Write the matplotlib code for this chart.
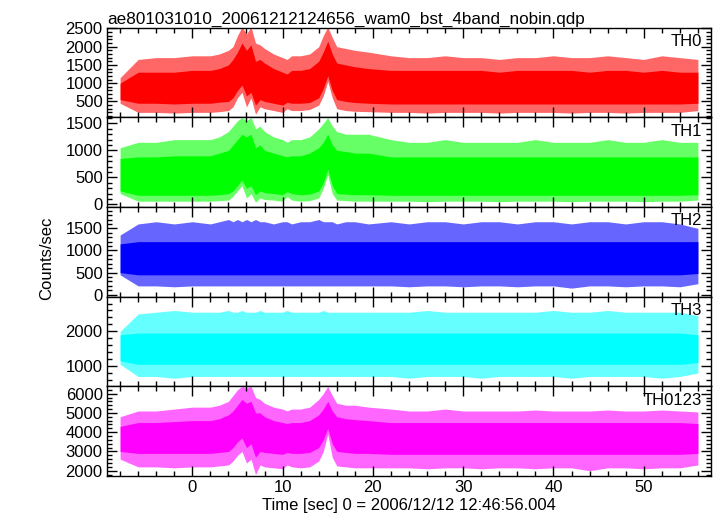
import matplotlib
matplotlib.use('Agg')
import matplotlib.pyplot as plt
from matplotlib.ticker import MultipleLocator

plt.rcParams['font.family'] = ['Liberation Sans', 'DejaVu Sans']

# time grid (sec), envelopes of each light curve
T = [-8, -6, -4, -2, 0, 2,
     3, 4, 4.5, 5, 5.5, 6, 6.5, 7, 7.5, 8,
     9, 10, 10.5, 11, 12, 13, 14, 14.5, 15,
     15.5, 16, 17, 18, 19.5,
     22, 24, 26, 28, 30, 32, 34, 36, 38, 40, 42, 44, 46, 48, 50, 52, 54, 56]

# TH0: spike top / dense top / dense bottom / spike bottom
th0_hi = [1150, 1650, 1700, 1700, 1750, 1750,
          1800, 1900, 2000, 2300, 2540, 2350, 2540, 2100, 2050, 1950,
          1800, 1700, 1650, 1750, 1750, 1800, 2000, 2300, 2540,
          2250, 2000, 1950, 1900, 1850,
          1750, 1700, 1700, 1750, 1700, 1700, 1650, 1700, 1700, 1750, 1700, 1700, 1750, 1700, 1650, 1750, 1700, 1650]
th0_chi = [1000, 1300, 1300, 1300, 1350, 1350,
           1400, 1500, 1650, 1850, 2100, 1900, 2050, 1600, 1650, 1550,
           1400, 1300, 1250, 1350, 1350, 1400, 1600, 1850, 2150,
           1800, 1550, 1500, 1450, 1400,
           1350, 1350, 1350, 1350, 1350, 1350, 1300, 1350, 1350, 1350, 1350, 1300, 1350, 1350, 1300, 1350, 1300, 1300]
th0_clo = [550, 450, 450, 430, 450, 450,
           480, 500, 600, 800, 950, 650, 750, 400, 550, 500,
           450, 400, 480, 450, 450, 470, 600, 850, 1200,
           800, 550, 500, 470, 450,
           430, 430, 430, 430, 430, 430, 430, 430, 430, 430, 430, 430, 430, 430, 430, 430, 430, 450]
th0_lo = [450, 200, 200, 180, 200, 200,
          220, 250, 350, 600, 750, 350, 600, 150, 350, 300,
          250, 200, 300, 250, 250, 280, 400, 650, 1050,
          600, 300, 250, 230, 220,
          200, 200, 180, 200, 200, 200, 180, 200, 200, 200, 180, 200, 200, 180, 200, 200, 200, 250]

th1_hi = [1050, 1150, 1150, 1200, 1200, 1200,
          1250, 1350, 1450, 1550, 1610, 1550, 1610, 1400, 1450, 1350,
          1250, 1200, 1150, 1200, 1200, 1250, 1400, 1500, 1610,
          1450, 1350, 1300, 1300, 1300,
          1200, 1150, 1150, 1200, 1150, 1150, 1150, 1150, 1200, 1150, 1150, 1150, 1200, 1150, 1150, 1200, 1150, 1150]
th1_chi = [850, 880, 880, 900, 900, 900,
           950, 1000, 1100, 1200, 1300, 1250, 1300, 1050, 1100, 1000,
           950, 900, 880, 900, 900, 950, 1050, 1150, 1300,
           1100, 1000, 980, 950, 950,
           880, 880, 880, 880, 880, 880, 880, 880, 880, 880, 880, 880, 880, 880, 880, 880, 880, 880]
th1_clo = [250, 170, 170, 170, 170, 170,
           180, 200, 250, 350, 450, 300, 350, 180, 250, 220,
           200, 180, 240, 200, 180, 190, 250, 400, 650,
           350, 200, 190, 180, 180,
           170, 170, 170, 170, 170, 170, 170, 170, 170, 170, 170, 170, 170, 170, 170, 170, 170, 180]
th1_lo = [200, 60, 60, 60, 60, 60,
          70, 80, 150, 250, 350, 120, 200, 40, 120, 90,
          80, 60, 150, 80, 60, 70, 120, 300, 550,
          200, 80, 70, 60, 60,
          60, 60, 50, 60, 60, 60, 50, 60, 60, 60, 50, 60, 60, 60, 50, 60, 60, 80]

th2_hi = [1350, 1600, 1650, 1600, 1650, 1600,
          1650, 1700, 1650, 1700, 1650, 1700, 1650, 1700, 1650, 1650,
          1600, 1650, 1650, 1600, 1650, 1650, 1700, 1650, 1650,
          1650, 1600, 1650, 1650, 1600,
          1650, 1600, 1650, 1650, 1600, 1650, 1650, 1600, 1650, 1650, 1600, 1650, 1650, 1600, 1650, 1650, 1600, 1500]
th2_chi = [1150, 1200, 1200, 1200, 1200, 1200,
           1200, 1200, 1200, 1200, 1200, 1200, 1200, 1200, 1200, 1200,
           1200, 1200, 1200, 1200, 1200, 1200, 1200, 1200, 1200,
           1200, 1200, 1200, 1200, 1200,
           1200, 1200, 1200, 1200, 1200, 1200, 1200, 1200, 1200, 1200, 1200, 1200, 1200, 1200, 1200, 1200, 1200, 1200]
th2_clo = [500, 450, 450, 450, 450, 450,
           450, 450, 450, 450, 450, 450, 450, 450, 450, 450,
           450, 450, 450, 450, 450, 450, 450, 450, 450,
           450, 450, 450, 450, 450,
           450, 450, 450, 450, 450, 450, 450, 450, 450, 450, 450, 450, 450, 450, 450, 450, 450, 480]
th2_lo = [450, 200, 200, 180, 200, 200,
          200, 200, 200, 200, 200, 200, 200, 200, 200, 200,
          200, 200, 200, 200, 200, 200, 200, 200, 200,
          200, 200, 200, 200, 200,
          200, 180, 200, 200, 180, 200, 200, 180, 200, 200, 150, 200, 200, 180, 200, 200, 180, 250]

th3_hi = [2000, 2500, 2550, 2600, 2550, 2550,
          2550, 2600, 2550, 2550, 2600, 2550, 2550, 2550, 2600, 2550,
          2550, 2550, 2600, 2550, 2550, 2550, 2550, 2600, 2550,
          2550, 2550, 2550, 2550, 2550,
          2550, 2550, 2600, 2550, 2550, 2550, 2550, 2550, 2550, 2600, 2550, 2550, 2600, 2550, 2550, 2550, 2550, 2450]
th3_chi = [1900, 1950, 1950, 1950, 1950, 1950,
           1950, 1950, 1950, 1950, 1950, 1950, 1950, 1950, 1950, 1950,
           1950, 1950, 1950, 1950, 1950, 1950, 1950, 1950, 1950,
           1950, 1950, 1950, 1950, 1950,
           1950, 1950, 1950, 1950, 1950, 1950, 1950, 1950, 1950, 1950, 1950, 1950, 1950, 1950, 1950, 1950, 1950, 1900]
th3_clo = [1150, 1050, 1050, 1050, 1050, 1050,
           1050, 1050, 1050, 1050, 1050, 1050, 1050, 1050, 1050, 1050,
           1050, 1050, 1050, 1050, 1050, 1050, 1050, 1050, 1050,
           1050, 1050, 1050, 1050, 1050,
           1050, 1050, 1050, 1050, 1050, 1050, 1050, 1050, 1050, 1050, 1050, 1050, 1050, 1050, 1050, 1050, 1050, 1100]
th3_lo = [1050, 700, 700, 650, 700, 700,
          700, 700, 700, 700, 700, 700, 700, 700, 700, 700,
          700, 700, 700, 700, 700, 700, 700, 700, 700,
          700, 700, 700, 700, 700,
          700, 650, 700, 700, 700, 650, 700, 700, 700, 700, 650, 700, 700, 700, 700, 650, 700, 800]

th0123_hi = [4800, 5100, 5100, 5200, 5300, 5300,
             5400, 5600, 5900, 6200, 6380, 6300, 6380, 5800, 5700, 5500,
             5300, 5200, 5100, 5200, 5200, 5300, 5700, 6000, 6380,
             5900, 5500, 5400, 5400, 5300,
             5200, 5100, 5100, 5200, 5100, 5100, 5100, 5100, 5150, 5100, 5100, 5100, 5150, 5100, 5100, 5150, 5100, 5050]
th0123_chi = [4300, 4500, 4500, 4550, 4600, 4600,
              4700, 4900, 5100, 5400, 5700, 5500, 5600, 5000, 5000, 4800,
              4600, 4500, 4450, 4500, 4500, 4600, 4900, 5200, 5600,
              5100, 4800, 4700, 4650, 4600,
              4500, 4500, 4500, 4500, 4500, 4500, 4500, 4500, 4500, 4500, 4500, 4500, 4500, 4500, 4500, 4500, 4500, 4450]
th0123_clo = [3000, 2900, 2900, 2900, 2900, 2900,
              2950, 3000, 3200, 3500, 3700, 3200, 3400, 2700, 3000, 2950,
              2900, 2850, 2950, 2900, 2900, 2950, 3200, 3600, 4200,
              3400, 3000, 2950, 2900, 2900,
              2850, 2850, 2850, 2850, 2850, 2850, 2850, 2850, 2850, 2850, 2850, 2850, 2850, 2850, 2850, 2850, 2850, 2900]
th0123_lo = [2600, 2200, 2200, 2150, 2200, 2200,
             2250, 2300, 2500, 2800, 3000, 2400, 2600, 1800, 2300, 2200,
             2150, 2100, 2300, 2200, 2150, 2200, 2500, 3000, 3900,
             2700, 2250, 2200, 2150, 2150,
             2150, 2150, 2100, 2150, 2150, 2100, 2150, 2150, 2100, 2150, 2150, 2000, 2150, 2150, 2100, 2150, 2150, 2300]

names = ['TH0', 'TH1', 'TH2', 'TH3', 'TH0123']
colors = ['#ff0000', '#00ff00', '#0000ff', '#00ffff', '#ff00ff']
bands = [(th0_hi, th0_chi, th0_clo, th0_lo),
         (th1_hi, th1_chi, th1_clo, th1_lo),
         (th2_hi, th2_chi, th2_clo, th2_lo),
         (th3_hi, th3_chi, th3_clo, th3_lo),
         (th0123_hi, th0123_chi, th0123_clo, th0123_lo)]
ylims = [(60, 2515), (-50, 1610), (-45, 1980), (415, 2995), (1726, 6377)]
yticks = [(500, 100), (500, 100), (500, 100), (1000, 200), (1000, 200)]

fig = plt.figure(figsize=(7.17, 5.16), dpi=100)
axes = fig.subplots(5, 1, sharex=True, gridspec_kw=dict(hspace=0))
fig.subplots_adjust(left=0.149, right=0.991, top=0.946, bottom=0.0775)

for ax, name, c, (hi, chi, clo, lo), yl, (maj, mnr) in zip(axes, names, colors, bands, ylims, yticks):
    ax.fill_between(T, lo, hi, color=c, alpha=0.6, lw=0)
    ax.fill_between(T, clo, chi, color=c, lw=0)
    ax.set_ylim(*yl)
    ax.yaxis.set_major_locator(MultipleLocator(maj))
    ax.yaxis.set_minor_locator(MultipleLocator(mnr))
    ax.xaxis.set_major_locator(MultipleLocator(10))
    ax.xaxis.set_minor_locator(MultipleLocator(2))
    ax.tick_params(which='both', direction='in', top=True, right=True,
                   labelsize=12, width=1, pad=3)
    ax.tick_params(which='major', length=7)
    ax.tick_params(which='minor', length=3.5)
    ax.text(0.986, 0.93, name, transform=ax.transAxes, ha='right', va='top',
            fontsize=12)
    for s in ax.spines.values():
        s.set_linewidth(1)

axes[0].set_xlim(-9.47, 57.4)
axes[0].set_title('ae801031010_20061212124656_wam0_bst_4band_nobin.qdp',
                  loc='left', fontsize=12.3, pad=3)
axes[-1].set_xlabel('Time [sec] 0 = 2006/12/12 12:46:56.004', fontsize=12, labelpad=2)
fig.text(0.065, 0.5, 'Counts/sec', rotation=90, ha='center', va='center', fontsize=12)

fig.savefig('out.png', dpi=100)
